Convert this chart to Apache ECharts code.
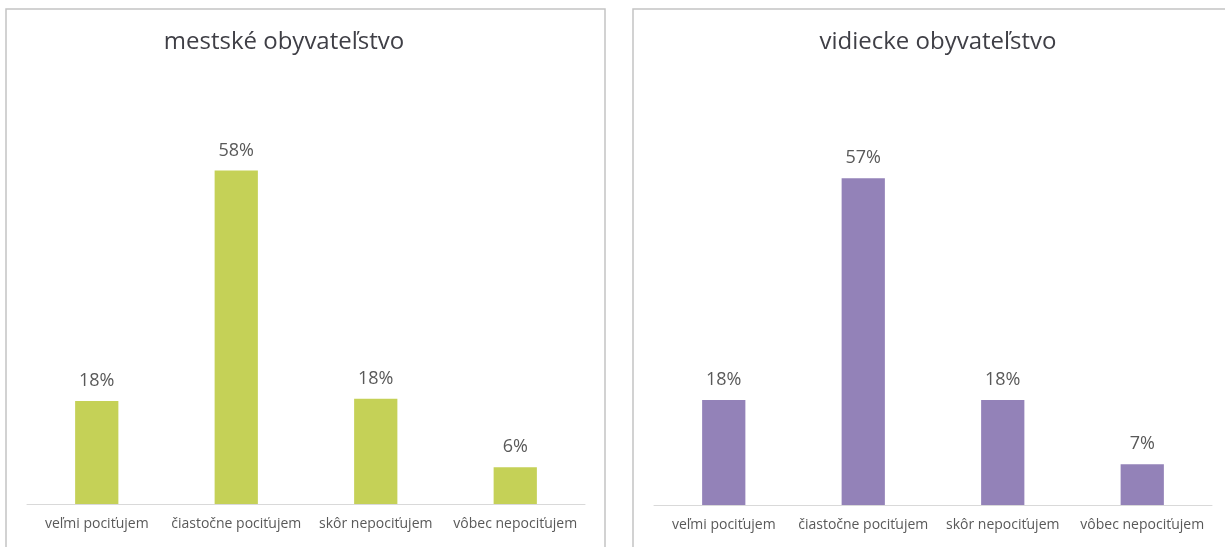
<!DOCTYPE html>
<html>
<head>
<meta charset="utf-8">
<script src="https://cdn.jsdelivr.net/npm/echarts@6/dist/echarts.min.js"></script>
<style>
  html, body { margin: 0; padding: 0; background: #ffffff; }
  #chart { width: 1225px; height: 547px; }
</style>
</head>
<body>
<div id="chart"></div>
<script>
const categories = ['veľmi pociťujem', 'čiastočne pociťujem', 'skôr nepociťujem', 'vôbec nepociťujem'];
const urbanValues = [17.9, 58.0, 18.3, 6.4];
const ruralValues = [18.3, 57.0, 18.3, 7.1];
const panelTitles = ['mestské obyvateľstvo', 'vidiecke obyvateľstvo'];

const chart = echarts.init(document.getElementById('chart'), null, { renderer: 'canvas' });

const textColor = '#595959';
const fontFam = '"Open Sans", "Noto Sans", sans-serif';

function xAxis(gridIndex) {
  return {
    type: 'category', gridIndex: gridIndex, data: categories,
    axisLine: { show: true, lineStyle: { color: '#D9D9D9', width: 1 } },
    axisTick: { show: false },
    axisLabel: { color: textColor, fontSize: 14, fontFamily: fontFam, margin: 13, interval: 0 },
    splitLine: { show: false }
  };
}
function yAxis(gridIndex) {
  return {
    type: 'value', gridIndex: gridIndex, min: 0, max: 60, interval: 10,
    show: false, splitLine: { show: false }
  };
}
function barSeries(idx, data, color) {
  return {
    type: 'bar', xAxisIndex: idx, yAxisIndex: idx, data: data,
    barWidth: '31%',
    itemStyle: { color: color },
    label: {
      show: true, position: 'top', distance: 11,
      color: textColor, fontSize: 18, fontFamily: fontFam,
      formatter: p => Math.round(p.value) + '%'
    },
    silent: true
  };
}

chart.setOption({
  animation: false,
  backgroundColor: '#ffffff',
  grid: [
    { left: 27, width: 558, top: 159, height: 345 },
    { left: 654, width: 558, top: 161, height: 344 }
  ],
  xAxis: [xAxis(0), xAxis(1)],
  yAxis: [yAxis(0), yAxis(1)],
  series: [
    barSeries(0, urbanValues, '#C5D157'),
    barSeries(1, ruralValues, '#9382B8')
  ],
  graphic: [
    { type: 'rect', shape: { x: 6, y: 9, width: 599, height: 560 }, style: { fill: 'none', stroke: '#C4C4C4', lineWidth: 1.5 }, silent: true },
    { type: 'rect', shape: { x: 633, y: 9, width: 620, height: 560 }, style: { fill: 'none', stroke: '#C4C4C4', lineWidth: 1.5 }, silent: true },
    { type: 'text', x: 284, y: 42, style: { text: panelTitles[0], fill: '#3F3F46', font: '24px "Open Sans", "Noto Sans", sans-serif', textAlign: 'center', textVerticalAlign: 'middle' }, silent: true },
    { type: 'text', x: 938, y: 42, style: { text: panelTitles[1], fill: '#3F3F46', font: '24px "Open Sans", "Noto Sans", sans-serif', textAlign: 'center', textVerticalAlign: 'middle' }, silent: true }
  ]
});
</script>
</body>
</html>
